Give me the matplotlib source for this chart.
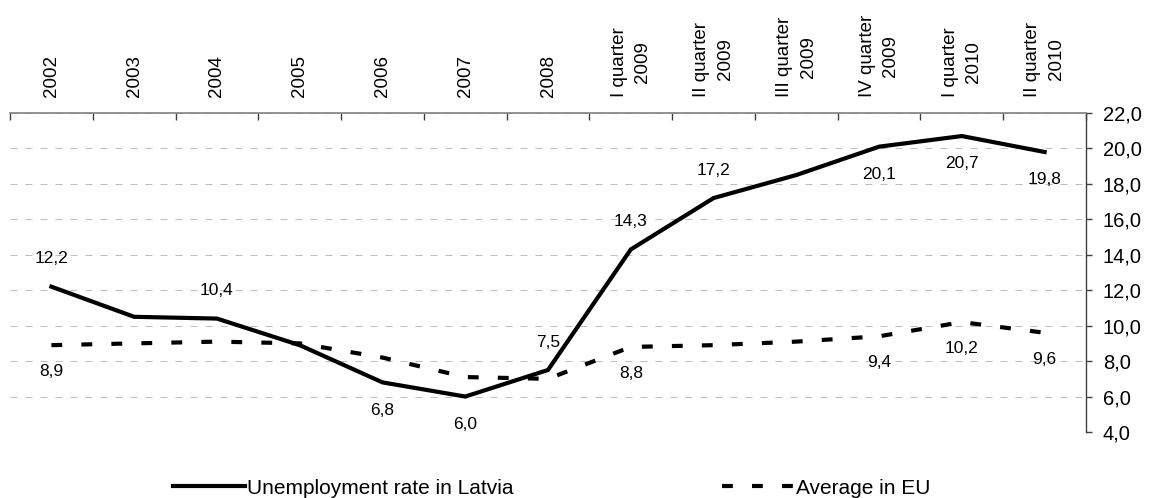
import numpy as np
import matplotlib
matplotlib.use("Agg")
import matplotlib.pyplot as plt
from matplotlib.ticker import FixedLocator, FuncFormatter
from matplotlib.lines import Line2D

plt.rcParams['font.family'] = ['Liberation Sans', 'DejaVu Sans']

# categories and series
categories = ['2002', '2003', '2004', '2005', '2006', '2007', '2008',
              'I quarter\n2009', 'II quarter\n2009', 'III quarter\n2009',
              'IV quarter\n2009', 'I quarter\n2010', 'II quarter\n2010']
latvia = [12.2, 10.5, 10.4, 8.9, 6.8, 6.0, 7.5, 14.3, 17.2, 18.5, 20.1, 20.7, 19.8]
eu_avg = [8.9, 9.0, 9.1, 9.0, 8.2, 7.1, 7.0, 8.8, 8.9, 9.1, 9.4, 10.2, 9.6]

# which points carry a value label, and on which side
latvia_above = [0, 2, 6, 7, 8]
latvia_below = [4, 5, 10, 11, 12]
eu_below = [0, 7, 10, 11, 12]

y_ticks = np.arange(4, 23, 2)


def comma(v, pos=None):
    return f'{v:.1f}'.replace('.', ',')


fig = plt.figure(figsize=(11.5, 4.98), dpi=100)
ax = fig.add_axes([10 / 1150, 1 - 432 / 498, 1076 / 1150, 319 / 498])

x = np.arange(len(categories))
ax.plot(x, latvia, color='black', lw=3, solid_joinstyle='miter', zorder=3,
        label='Unemployment rate in Latvia')
ax.plot(x, eu_avg, color='black', lw=3, dashes=(2.6, 4.6), zorder=3,
        label='Average in EU')

lab_kw = dict(textcoords='offset points', ha='center', va='center', fontsize=12.5)
for i in latvia_above:
    ax.annotate(comma(latvia[i]), (x[i], latvia[i]), xytext=(0, 20), **lab_kw)
for i in latvia_below:
    ax.annotate(comma(latvia[i]), (x[i], latvia[i]), xytext=(0, -20), **lab_kw)
for i in eu_below:
    ax.annotate(comma(eu_avg[i]), (x[i], eu_avg[i]), xytext=(0, -19), **lab_kw)

# axes limits and grid
ax.set_xlim(-0.5, len(categories) - 0.5)
ax.set_ylim(4, 22)
ax.set_yticks(y_ticks)
ax.yaxis.set_major_formatter(FuncFormatter(comma))
ax.yaxis.grid(True, color='#c0c0c0', lw=0.75, dashes=(6.7, 7.7))
ax.set_axisbelow(True)

# category axis on top
ax.xaxis.tick_top()
ax.set_xticks(x)
ax.set_xticklabels(categories, rotation=90, fontsize=13.5, linespacing=1.5)
ax.xaxis.set_minor_locator(FixedLocator(np.arange(-0.5, len(categories), 1)))
ax.tick_params(axis='x', which='major', length=0, pad=11.5)
ax.tick_params(axis='x', which='minor', direction='in', length=5,
               width=1, color='#404040', top=True, bottom=False)

# value axis on right
ax.yaxis.tick_right()
ax.tick_params(axis='y', which='major', direction='out', length=4.5,
               width=1, color='#404040', labelsize=14.5, pad=7.5)

for side in ('left', 'bottom'):
    ax.spines[side].set_visible(False)
ax.spines['top'].set_color('#808080')
ax.spines['top'].set_linewidth(1.2)
ax.spines['right'].set_color('#404040')
ax.spines['right'].set_linewidth(1)

# legend, two entries spread across the bottom
h_lat = Line2D([], [], color='black', lw=3)
h_eu = Line2D([], [], color='black', lw=3, dashes=(2.6, 4.6))
leg_kw = dict(loc='center left', frameon=False, borderpad=0, borderaxespad=0,
              handlelength=3.46, handletextpad=0.1, fontsize=15)
fig.legend([h_lat], ['Unemployment rate in Latvia'],
           bbox_to_anchor=(173 / 1150, 1 - 488 / 498), **leg_kw)
fig.legend([h_eu], ['Average in EU'],
           bbox_to_anchor=(722 / 1150, 1 - 488 / 498), **leg_kw)

fig.savefig('out.png', dpi=100)
